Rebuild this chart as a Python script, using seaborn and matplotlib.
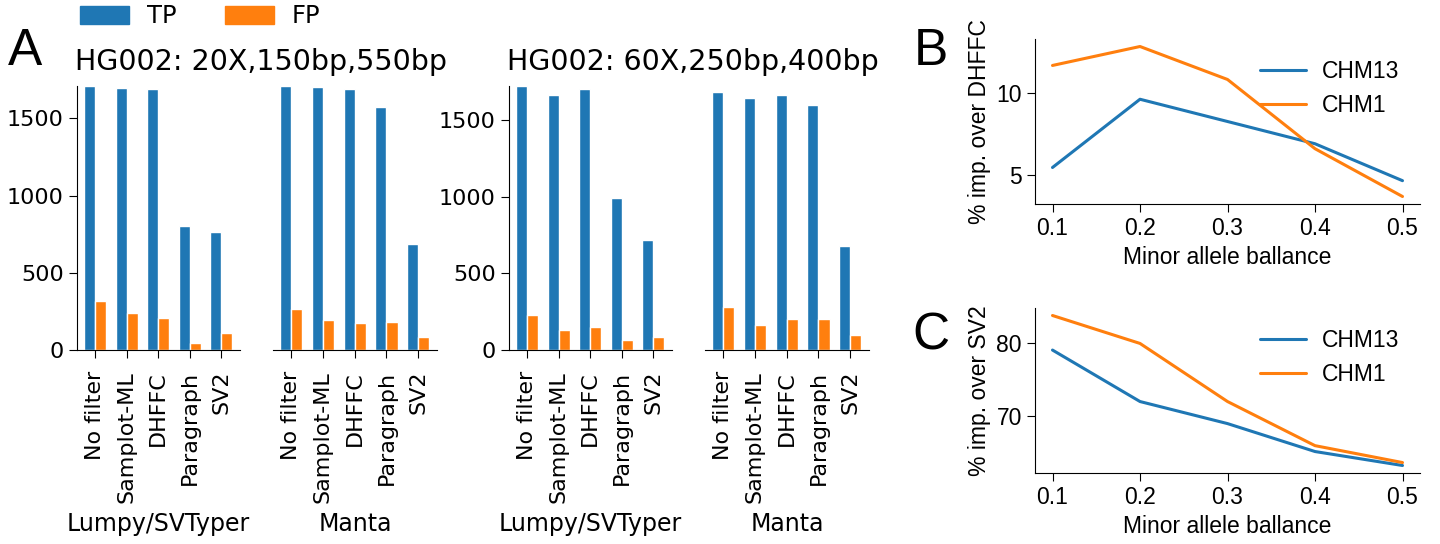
import numpy as np
import pandas as pd
import seaborn as sns
from matplotlib import pyplot as plt
from matplotlib.patches import Patch

# panel A: TP / FP counts per filter
methods = ["No filter", "Samplot-ML", "DHFFC", "Paragraph", "SV2"]
tp_20x_lumpy = [1710, 1695, 1688, 805, 766]
fp_20x_lumpy = [320, 237, 205, 47, 112]
tp_20x_manta = [1710, 1701, 1688, 1576, 687]
fp_20x_manta = [263, 192, 173, 179, 84]
tp_60x_lumpy = [1720, 1663, 1702, 993, 715]
fp_60x_lumpy = [230, 133, 150, 67, 87]
tp_60x_manta = [1680, 1639, 1661, 1598, 676]
fp_60x_manta = [278, 163, 202, 202, 100]

# panels B, C: improvement vs minor allele balance
balance = [0.1, 0.2, 0.3, 0.4, 0.5]
dhffc_chm13 = [5.46, 9.6, 8.25, 6.9, 4.66]
dhffc_chm1 = [11.65, 12.8, 10.8, 6.6, 3.7]
sv2_chm13 = [79.0, 72.0, 69.0, 65.2, 63.3]
sv2_chm1 = [83.7, 79.9, 72.0, 66.0, 63.7]

blue = '#1f77b4'
orange = '#ff7f0e'

sns.set_style('ticks')
plt.rcParams['font.family'] = ['DejaVu Sans']
plt.rcParams['xtick.major.size'] = 6
plt.rcParams['ytick.major.size'] = 6
for k in ['text.color', 'axes.labelcolor', 'xtick.color', 'ytick.color', 'axes.edgecolor']:
    plt.rcParams[k] = 'black'
ARIAL = ['Liberation Sans', 'DejaVu Sans']

W, H = 1440, 544
fig = plt.figure(figsize=(W / 100, H / 100), dpi=100)


def px_axes(left, right, top, bottom):
    return fig.add_axes([left / W, 1 - bottom / H, (right - left) / W, (bottom - top) / H])


def bar_panel(ax, tp, fp, xlabel, ymax, show_y):
    df = pd.DataFrame({
        'method': methods * 2,
        'kind': ['TP'] * len(methods) + ['FP'] * len(methods),
        'count': tp + fp,
    })
    sns.barplot(data=df, x='method', y='count', hue='kind', palette=[blue, orange],
                width=0.7, saturation=1, ax=ax, legend=False)
    ax.set_xlim(-0.57, 4.59)
    ax.set_ylim(0, ymax)
    ax.set_yticks([0, 500, 1000, 1500])
    ax.tick_params(axis='x', labelrotation=90, labelsize=16, pad=9)
    ax.tick_params(axis='y', labelsize=16)
    ax.set_xlabel(xlabel, fontsize=17, labelpad=7)
    ax.set_ylabel('')
    sns.despine(ax=ax)
    if not show_y:
        ax.spines['left'].set_visible(False)
        ax.set_yticks([])


groups = [
    (77, 240, tp_20x_lumpy, fp_20x_lumpy, 'Lumpy/SVTyper', True, max(tp_20x_lumpy + tp_20x_manta)),
    (273, 437, tp_20x_manta, fp_20x_manta, 'Manta', False, max(tp_20x_lumpy + tp_20x_manta)),
    (509, 672, tp_60x_lumpy, fp_60x_lumpy, 'Lumpy/SVTyper', True, max(tp_60x_lumpy + tp_60x_manta)),
    (705, 869, tp_60x_manta, fp_60x_manta, 'Manta', False, max(tp_60x_lumpy + tp_60x_manta)),
]
for left, right, tp, fp, lab, show_y, ymax in groups:
    ax = px_axes(left, right, 86, 350)
    bar_panel(ax, tp, fp, lab, ymax, show_y)

fig.text(261 / W, 1 - 62 / H, 'HG002: 20X,150bp,550bp', ha='center', va='center', fontsize=20.5)
fig.text(693 / W, 1 - 62 / H, 'HG002: 60X,250bp,400bp', ha='center', va='center', fontsize=20.5)

handles = [Patch(color=blue, label='TP'), Patch(color=orange, label='FP')]
fig.legend(handles=handles, loc='upper left', bbox_to_anchor=(68 / W, 1 + 8 / H), ncol=2,
           frameon=False, fontsize=17.5, borderpad=0, handlelength=2.0, handleheight=0.75,
           handletextpad=0.75, columnspacing=2.0)


def line_panel(ax, a, b, ylabel, yticks):
    df = pd.DataFrame({
        'balance': balance * 2,
        'value': a + b,
        'sample': ['CHM13'] * len(balance) + ['CHM1'] * len(balance),
    })
    sns.lineplot(data=df, x='balance', y='value', hue='sample', palette=[blue, orange],
                 linewidth=2.2, ax=ax)
    ax.set_xticks(balance)
    ax.set_yticks(yticks)
    for t in ax.get_xticklabels() + ax.get_yticklabels():
        t.set_family(ARIAL)
        t.set_fontsize(16.5)
    ax.set_xlabel('Minor allele ballance', fontsize=16.5, family=ARIAL)
    ax.set_ylabel(ylabel, fontsize=16.5, family=ARIAL)
    leg = ax.legend(loc='upper right', bbox_to_anchor=(1.0, 1.0), frameon=False,
                    prop={'family': ARIAL, 'size': 16.5}, handlelength=2.0, handletextpad=0.7)
    for ln in leg.get_lines():
        ln.set_linewidth(2.2)
    sns.despine(ax=ax)


axB = px_axes(1035, 1420, 39, 204)
line_panel(axB, dhffc_chm13, dhffc_chm1, '% imp. over DHFFC', [5, 10])
axC = px_axes(1035, 1420, 308, 473)
line_panel(axC, sv2_chm13, sv2_chm1, '% imp. over SV2', [70, 80])

fig.text(8 / W, 1 - 65 / H, 'A', fontsize=37, family=ARIAL, va='baseline')
fig.text(914 / W, 1 - 65 / H, 'B', fontsize=37, family=ARIAL, va='baseline')
fig.text(912 / W, 1 - 349 / H, 'C', fontsize=37, family=ARIAL, va='baseline')

fig.savefig('out.png', dpi=100)
